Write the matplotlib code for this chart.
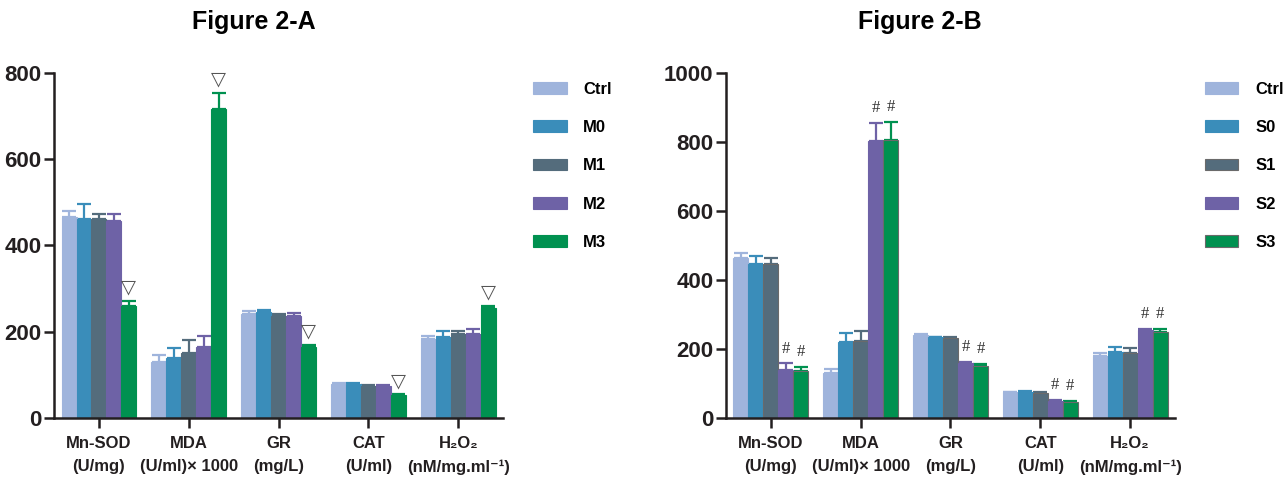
import numpy as np
import matplotlib
matplotlib.use("Agg")
import matplotlib.pyplot as plt

plt.rcParams["font.family"] = ["Liberation Sans", "DejaVu Sans"]
plt.rcParams["font.weight"] = "bold"

categories = ["Mn-SOD\n(U/mg)", "MDA\n(U/ml)× 1000", "GR\n(mg/L)", "CAT\n(U/ml)",
              "H₂O₂\n(nM/mg.ml⁻¹)"]
colors = ["#9FB4DC", "#3A8DBA", "#546C7C", "#6E62A6", "#009150"]

# Figure 2-A
groups_a = ["Ctrl", "M0", "M1", "M2", "M3"]
means_a = [[467, 130, 241, 78, 182],
           [461, 139, 245, 78, 188],
           [461, 150, 237, 75, 194],
           [457, 164, 237, 75, 194],
           [259, 717, 164, 53, 255]]
errs_a = [[13, 15, 6, 2, 8],
          [35, 24, 5, 2, 14],
          [13, 31, 5, 2, 8],
          [17, 27, 6, 2, 13],
          [12, 37, 6, 2, 5]]
marked_a = [4]          # groups with a triangle above

# Figure 2-B
groups_b = ["Ctrl", "S0", "S1", "S2", "S3"]
means_b = [[465, 129, 240, 74, 179],
           [447, 221, 234, 75, 190],
           [447, 224, 233, 73, 188],
           [139, 804, 158, 49, 256],
           [136, 807, 151, 46, 249]]
errs_b = [[12, 14, 3, 2, 8],
          [23, 26, 2, 2, 17],
          [17, 28, 2, 2, 15],
          [19, 51, 3, 2, 2],
          [11, 50, 6, 3, 8]]
marked_b = [3, 4]       # groups with a hash above

fig = plt.figure(figsize=(12.87, 4.90), dpi=100)
ax_a = fig.add_axes([0.042, 0.147, 0.349, 0.704])
ax_b = fig.add_axes([0.564, 0.147, 0.349, 0.704])

x = np.arange(len(categories))
w = 1 / 6


def panel(ax, groups, means, errs, marked, mark, ymax, step, edged):
    for i, g in enumerate(groups):
        xs = x + (i - 2) * w
        ec = "#6a6a6a" if i in edged else colors[i]
        ax.bar(xs, means[i], w, color=colors[i], edgecolor=ec, lw=0.8, label=g, zorder=2)
        ax.errorbar(xs, means[i], yerr=[np.zeros(len(x)), errs[i]], fmt="none",
                    ecolor=colors[i], elinewidth=1.6, capsize=5, capthick=1.6, zorder=1)
        if i in marked:
            tops = np.array(means[i]) + np.array(errs[i])
            for xx, tt in zip(xs, tops):
                if mark == "tri":
                    ax.annotate("▽", (xx, tt), xytext=(0, 3), textcoords="offset points",
                                ha="center", va="bottom", fontsize=14, color="#555555",
                                family="DejaVu Sans", fontweight="normal")
                else:
                    ax.annotate("#", (xx, tt), xytext=(0, 5), textcoords="offset points",
                                ha="center", va="bottom", fontsize=12, color="#333333",
                                family="Liberation Serif", fontweight="normal")
    ax.set_xlim(-0.5, 4.5)
    ax.set_ylim(0, ymax)
    ax.set_yticks(np.arange(0, ymax + 1, step))
    ax.set_xticks(x)
    ax.set_xticklabels(categories, fontsize=12, linespacing=1.7, va="top")
    ax.tick_params(axis="y", labelsize=16, length=7, width=1.8, pad=2, colors="#231F20")
    ax.tick_params(axis="x", length=7, width=1.8, pad=6, colors="#231F20")
    for s in ["top", "right"]:
        ax.spines[s].set_visible(False)
    for s in ["left", "bottom"]:
        ax.spines[s].set_linewidth(1.8)
        ax.spines[s].set_color("#231F20")
    ax.legend(loc="upper left", bbox_to_anchor=(1.067, 0.975), frameon=False,
              fontsize=12, handlelength=2.0, handleheight=0.7, handletextpad=1.0,
              labelspacing=1.4, borderpad=0, borderaxespad=0)


panel(ax_a, groups_a, means_a, errs_a, marked_a, "tri", 800, 200, [])
panel(ax_b, groups_b, means_b, errs_b, marked_b, "hash", 1000, 200, [2, 4])

fig.text(0.197, 0.955, "Figure 2-A", ha="center", va="center", fontsize=18,
         fontweight="bold")
fig.text(0.715, 0.955, "Figure 2-B", ha="center", va="center", fontsize=18,
         fontweight="bold")

fig.savefig("out.png", dpi=100)
